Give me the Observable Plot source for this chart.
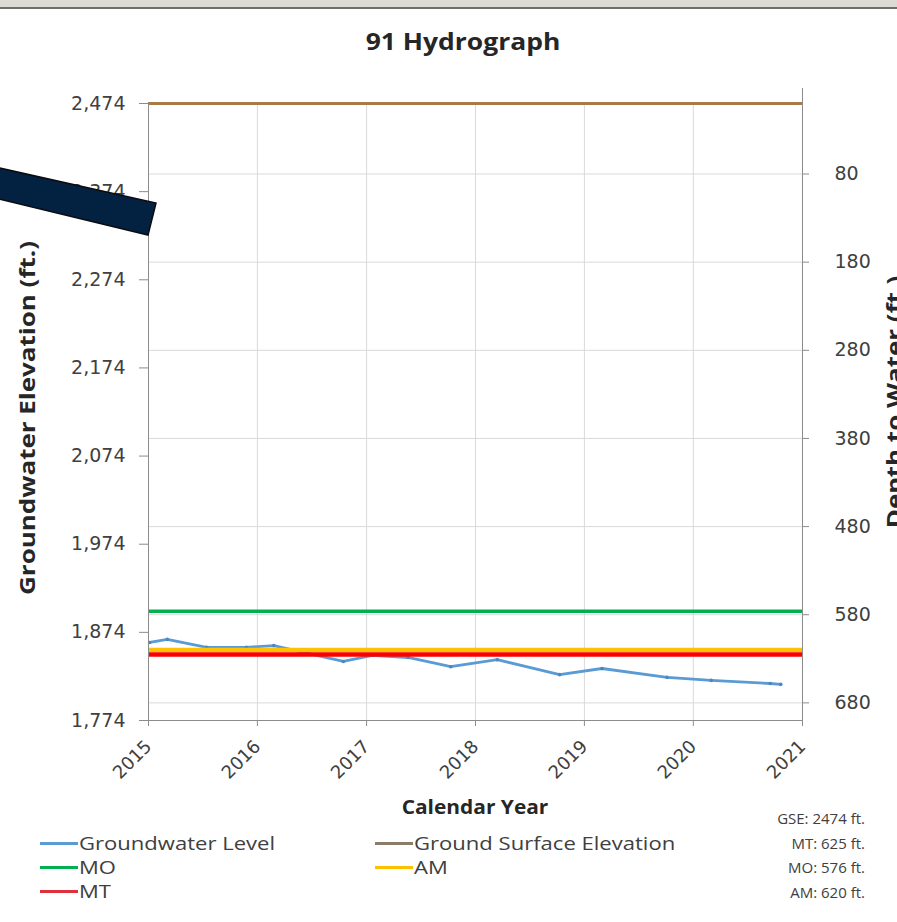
<!DOCTYPE html>
<html><head><meta charset="utf-8">
<script src="https://cdn.jsdelivr.net/npm/d3@7"></script>
<script src="https://cdn.jsdelivr.net/npm/@observablehq/plot@0.6"></script>
<style>
html,body{margin:0;padding:0;background:#fff;}
#wrap{position:relative;width:897px;height:922px;overflow:hidden;font-family:"Open Sans",sans-serif;color:#262626;}
#topstrip{position:absolute;left:0;top:0;width:897px;height:7px;background:#dcdcd4;border-bottom:2px solid #6e6e6e;}
#chart{position:absolute;left:0;top:60px;}
.title{position:absolute;font-weight:700;white-space:nowrap;color:#262626;line-height:1.1;}
.legend{position:absolute;font-size:17.5px;line-height:18px;height:18px;white-space:nowrap;color:#404040;display:flex;align-items:center;}
.legend .lt{display:inline-block;transform:scaleX(1.26);transform-origin:left center;}
.sw{display:inline-block;width:38px;height:3px;margin-right:1px;}
.summary{position:absolute;right:32px;font-size:15px;line-height:18px;color:#404040;text-align:right;white-space:nowrap;}
#band{position:absolute;left:0;top:0;}
</style></head>
<body><div id="wrap"><div id="topstrip"></div><div id="chart"></div></div>
<script>
// ---- data ----
const dates = ["2015-01-05","2015-03-05","2015-07-15","2015-11-25","2016-02-25","2016-10-15","2017-01-20","2017-05-20","2017-10-10","2018-03-15","2018-10-10","2019-03-01","2019-10-05","2020-03-01","2020-09-15","2020-10-20"];
const levels = [1862.5,1866,1857,1857,1859,1841,1848,1845.5,1835,1843,1826,1833,1823,1819.5,1816,1815];
const gse = 2474;
const thresholdNames = ["MO","AM","MT"];
const thresholdDepths = [576,620,625];
const thresholdColors = ["#00b050","#ffc000","#ff0000"];
const gseColor = "#a87a45";
const levelColor = "#5b9bd5";
const yearTicks = [2015,2016,2017,2018,2019,2020,2021];
const elevTicks = [1774,1874,1974,2074,2174,2274,2374,2474];
const depthTicks = [80,180,280,380,480,580,680];
const legendNames = ["Groundwater Level","Ground Surface Elevation","MO","AM","MT"];
const legendColors = [levelColor,"#8c7b66","#00b050","#ffc000","#e0303a"];
const summaryLabels = ["GSE: 2474 ft.","MT: 625 ft.","MO: 576 ft.","AM: 620 ft."];
const chartTitle = "91 Hydrograph";
const xTitle = "Calendar Year";
const yTitle = "Groundwater Elevation (ft.)";
const y2Title = "Depth to Water (ft.)";

// ---- build ----
const rows = dates.map((d,i)=>({date:new Date(d+"T00:00:00Z"), level:levels[i]}));
const yearDates = yearTicks.map(y=>new Date(Date.UTC(y,0,1)));
const depthElev = depthTicks.map(d=>gse-d);
const commaFmt = d3.format(",");

const chart = Plot.plot({
  width:897, height:760,
  marginTop:43, marginBottom:100, marginLeft:148, marginRight:95,
  style:{fontFamily:"DejaVu Sans, sans-serif", fontSize:"18px", color:"#404040", background:"transparent", overflow:"visible"},
  x:{type:"utc", domain:[yearDates[0], yearDates[yearDates.length-1]]},
  y:{domain:[1774,2474]},
  marks:[
    Plot.gridX(yearDates.slice(1,-1), {stroke:"#d9d9d9", strokeOpacity:1}),
    Plot.gridY(depthElev, {stroke:"#d9d9d9", strokeOpacity:1}),
    Plot.lineY(rows, {x:"date", y:"level", stroke:levelColor, strokeWidth:2.8}),
    Plot.dot(rows, {x:"date", y:"level", r:1.8, fill:"#4a86c0", stroke:null}),
    Plot.ruleY([gse], {stroke:gseColor, strokeWidth:3}),
    ...thresholdDepths.map((d,i)=>Plot.ruleY([gse-d], {stroke:thresholdColors[i], strokeWidth:i===0?3.5:4.5})),
    Plot.ruleX([yearDates[0]], {stroke:"#8c8c8c"}),
    Plot.ruleX([yearDates[yearDates.length-1]], {y1:1774, y2:2491, stroke:"#8c8c8c", clip:false}),
    Plot.ruleY([1774], {stroke:"#8c8c8c"}),
    Plot.axisX(yearDates, {tickFormat:"%Y", tickRotate:-45, tickSize:6, tickPadding:17, label:null, stroke:"#8c8c8c", fontSize:18}),
    Plot.axisY(elevTicks, {anchor:"left", tickFormat:commaFmt, tickSize:9, tickPadding:14, label:null, stroke:"#8c8c8c", fontSize:19}),
    Plot.axisY(depthElev, {anchor:"right", tickFormat:d=>gse-d, tickSize:6, tickPadding:26, label:null, stroke:"#8c8c8c", fontSize:19})
  ]
});
document.getElementById("chart").appendChild(chart);

const wrap = document.getElementById("wrap");
function addTitle(text, x, y, size, rot, sx){
  const el = document.createElement("div");
  el.className = "title";
  el.textContent = text;
  el.style.fontSize = size+"px";
  el.style.left = x+"px"; el.style.top = y+"px";
  el.style.transform = "translate(-50%,-50%)" + (rot?" rotate("+rot+"deg)":"") + " scaleX("+sx+")";
  wrap.appendChild(el);
}
addTitle(chartTitle, 463, 42, 23, 0, 1.15);
addTitle(xTitle, 475, 807, 19, 0, 1.1);
addTitle(yTitle, 26, 418, 22, -90, 1.18);
addTitle(y2Title, 893, 402, 22, -90, 1.18);

// legend
const legendPos = [[40,843],[375,843],[40,867],[375,867],[40,891]];
legendNames.forEach((n,i)=>{
  const el = document.createElement("div");
  el.className = "legend";
  el.style.left = legendPos[i][0]+"px";
  el.style.top = (legendPos[i][1]-9)+"px";
  el.innerHTML = '<span class="sw" style="background:'+legendColors[i]+'"></span>';
  const t = document.createElement("span");
  t.className = "lt"; t.textContent = n;
  el.appendChild(t);
  wrap.appendChild(el);
});
summaryLabels.forEach((s,i)=>{
  const el = document.createElement("div");
  el.className = "summary";
  el.textContent = s;
  el.style.top = (818 + i*24.5 - 9)+"px";
  wrap.appendChild(el);
});

// overlay band (foreground decoration in the reference)
const ns = "http://www.w3.org/2000/svg";
const svg = document.createElementNS(ns,"svg");
svg.setAttribute("id","band"); svg.setAttribute("width","897"); svg.setAttribute("height","922");
svg.style.pointerEvents = "none";
const poly = document.createElementNS(ns,"polygon");
poly.setAttribute("points","-5,167 156,203 148,235 -5,198");
poly.setAttribute("fill","#032241"); poly.setAttribute("stroke","#0c0c10"); poly.setAttribute("stroke-width","1.5");
svg.appendChild(poly);
wrap.appendChild(svg);
</script>
</body></html>
